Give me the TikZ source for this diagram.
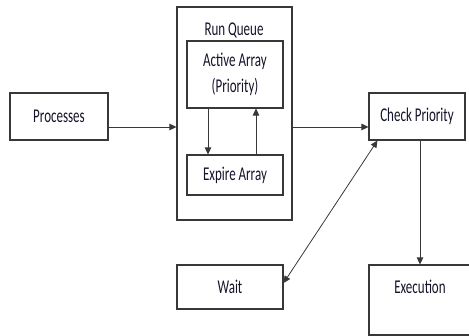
\documentclass[tikz,border=0pt]{standalone}
\usepackage{fontspec}
\setmainfont{Carlito}
\usetikzlibrary{arrows.meta}
\definecolor{ink}{rgb}{0.08,0.08,0.16}
\definecolor{edge}{rgb}{0.22,0.22,0.22}
% text is set tall and narrow
\newcommand{\tx}[1]{\scalebox{1}[1.5]{#1}}
\tikzset{
  box/.style={draw=edge, line width=1.1pt, inner sep=0pt, text=ink,
    font=\fontsize{13}{15}\selectfont},
  lbl/.style={text=ink, inner sep=0pt, font=\fontsize{13}{15}\selectfont},
  arr/.style={draw=edge, line width=0.8pt,
    -{Triangle[length=7pt,width=6.5pt]}},
  darr/.style={draw=edge, line width=0.8pt,
    {Triangle[length=7pt,width=6.5pt]}-{Triangle[length=7pt,width=6.5pt]}}
}
\begin{document}
\begin{tikzpicture}[x=1pt,y=1pt]
\useasboundingbox (0,0) rectangle (469,336);
\node[box, minimum width=98pt, minimum height=47pt] (proc) at (59,219.5) {\tx{Processes}};
\node[box, minimum width=115pt, minimum height=213pt] (rq) at (234.5,222.5) {};
\node[lbl] (rqlabel) at (234,306) {\tx{Run Queue}};
\node[box, minimum width=96pt, minimum height=67pt, align=center] (active) at (235,261.5)
  {\tx{Active Array}\\[7pt]\tx{(Priority)}};
\node[box, minimum width=96pt, minimum height=40pt] (expire) at (235,161) {\tx{Expire Array}};
\node[box, minimum width=96pt, minimum height=47pt] (check) at (417,219.5) {\tx{Check Priority}};
\node[box, minimum width=106pt, minimum height=44pt] (wait) at (230,49) {\tx{Wait}};
\node[box, minimum width=102pt, minimum height=70pt] (exec) at (420,36) {};
\node[lbl] (execlabel) at (420,49) {\tx{Execution}};

\draw[arr] ([yshift=-10.5pt]proc.east) -- ([yshift=-10.5pt]proc.east -| rq.west);
\draw[arr] ([yshift=-10.5pt]check.west -| rq.east) -- ([yshift=-10.5pt]check.west);
\draw[arr] ([xshift=-27pt]active.south) -- ([xshift=-27pt]expire.north);
\draw[arr] ([xshift=21pt]expire.north) -- ([xshift=21pt]active.south);
\draw[arr] ([xshift=3pt]check.south) -- ([xshift=3pt]check.south |- exec.north);
\draw[darr] ([xshift=9pt]check.south west) -- ([yshift=4pt]wait.east);
\end{tikzpicture}
\end{document}
